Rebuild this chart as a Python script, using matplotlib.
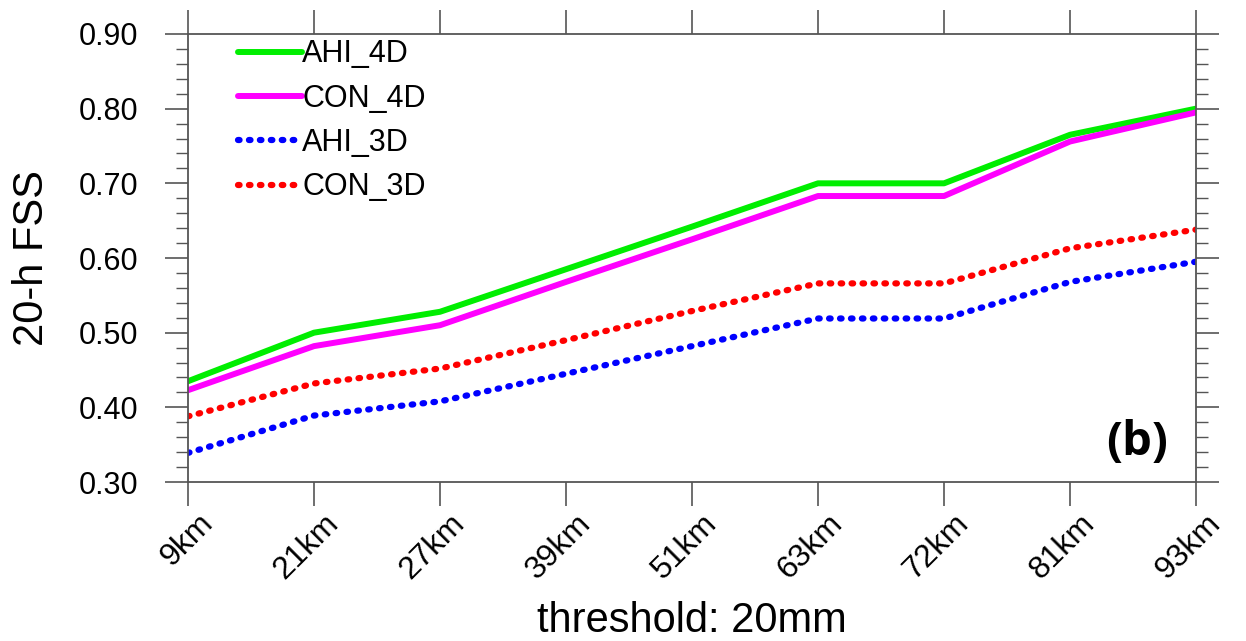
import matplotlib.pyplot as plt
import matplotlib.transforms as mtransforms
from matplotlib.ticker import MultipleLocator, FormatStrFormatter
import numpy as np

plt.rcParams['font.family'] = ['Liberation Sans', 'DejaVu Sans']

# thresholds on the x axis
thresholds = ['9km', '21km', '27km', '39km', '51km', '63km', '72km', '81km', '93km']

# 20-h FSS values
ahi_4d = [0.435, 0.500, 0.528, 0.585, 0.642, 0.700, 0.700, 0.765, 0.800]
con_4d = [0.423, 0.482, 0.510, 0.568, 0.625, 0.683, 0.683, 0.756, 0.795]
ahi_3d = [0.339, 0.389, 0.408, 0.445, 0.482, 0.519, 0.519, 0.568, 0.595]
con_3d = [0.388, 0.432, 0.452, 0.490, 0.529, 0.566, 0.566, 0.613, 0.638]

fig = plt.figure(figsize=(12.46, 6.41), dpi=100)
ax = fig.add_axes([0.1509, 0.248, 0.8090, 0.699])

x = np.arange(len(thresholds))
dots = (0.25, 1.5)
ax.plot(x, ahi_4d, color='#00ee00', lw=4.3, label='AHI_4D', solid_capstyle='round')
ax.plot(x, con_4d, color='#ff00ff', lw=4.3, label='CON_4D', solid_capstyle='round')
ax.plot(x, ahi_3d, color='#0000ff', lw=4.5, dashes=dots, dash_capstyle='round', label='AHI_3D')
ax.plot(x, con_3d, color='#ff0000', lw=4.5, dashes=dots, dash_capstyle='round', label='CON_3D')

ax.set_xlim(0, len(thresholds) - 1)
ax.set_ylim(0.30, 0.90)
ax.set_xticks(x)
ax.set_xticklabels(thresholds, rotation=45, ha='right', va='top', fontsize=23)
ax.yaxis.set_major_locator(MultipleLocator(0.1))
ax.yaxis.set_minor_locator(MultipleLocator(0.02))
ax.yaxis.set_major_formatter(FormatStrFormatter('%.2f'))

axis_col = '#555555'
for s in ax.spines.values():
    s.set_color(axis_col)
    s.set_linewidth(1.3)
ax.tick_params(axis='both', which='major', direction='out', color=axis_col, width=1.2,
               top=True, right=True)
ax.tick_params(axis='y', which='major', length=16.5, pad=19, labelsize=22)
ax.tick_params(axis='x', which='major', length=17, pad=2)
ax.tick_params(axis='y', which='minor', direction='out', length=8.5, width=1.0,
               color=axis_col, right=True)

# shift rotated x labels right like the original
offset = mtransforms.ScaledTranslation(31 / 100, 0, fig.dpi_scale_trans)
for lab in ax.get_xticklabels():
    lab.set_transform(lab.get_transform() + offset)

ax.set_ylabel('20-h FSS', fontsize=30)
ax.yaxis.set_label_coords(-0.135, 0.5)
ax.set_xlabel('threshold: 20mm', fontsize=30)
ax.xaxis.set_label_coords(0.5, -0.265)

ax.legend(loc='upper left', bbox_to_anchor=(0.0496, 0.988), frameon=False, fontsize=22,
          handlelength=2.1, handletextpad=0.0, labelspacing=0.47, borderpad=0.0,
          borderaxespad=0.0)

ax.text(0.941, 0.089, '(b)', transform=ax.transAxes, fontsize=34, fontweight='bold',
        family=['Open Sans', 'DejaVu Sans'], ha='center', va='center')

fig.savefig('out.png', dpi=100)
